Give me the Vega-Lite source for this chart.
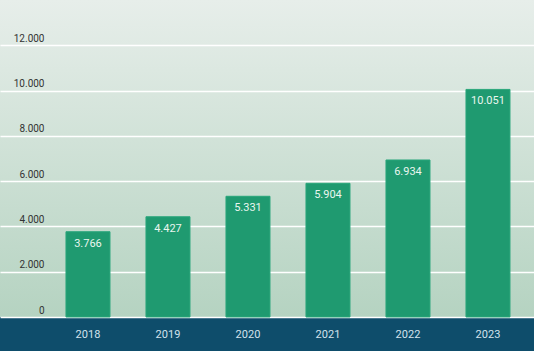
{
  "$schema": "https://vega.github.io/schema/vega-lite/v6.json",
  "width": 534,
  "height": 317,
  "padding": {"top": 0, "left": 0, "right": 0, "bottom": 34},
  "autosize": {"type": "none"},
  "background": "#0e4d6b",
  "config": {
    "view": {
      "stroke": null,
      "fill": {
        "gradient": "linear",
        "x1": 0, "y1": 0, "x2": 0, "y2": 1,
        "stops": [
          {"offset": 0, "color": "#e7eeea"},
          {"offset": 1, "color": "#b5d3c1"}
        ]
      }
    },
    "font": "Roboto",
    "locale": {"number": {"decimal": ",", "thousands": ".", "grouping": [3], "currency": ["", " €"]}}
  },
  "data": {
    "values": [
      {"year": "2018", "value": 3766},
      {"year": "2019", "value": 4427},
      {"year": "2020", "value": 5331},
      {"year": "2021", "value": 5904},
      {"year": "2022", "value": 6934},
      {"year": "2023", "value": 10051}
    ]
  },
  "layer": [
    {
      "mark": {"type": "bar", "color": "#1f9a70", "stroke": "#2aa67b", "strokeWidth": 1},
      "encoding": {
        "x": {
          "field": "year", "type": "ordinal",
          "scale": {"paddingInner": 0.45, "paddingOuter": 0.5625, "align": 0.733},
          "axis": {
            "title": null, "domain": false, "ticks": false, "labelAngle": 0,
            "labelColor": "#d3e3ec", "labelFontSize": 11, "labelPadding": 11
          }
        },
        "y": {
          "field": "value", "type": "quantitative",
          "scale": {"domain": [0, 14000], "nice": false},
          "axis": {
            "title": null, "domain": false, "ticks": false,
            "values": [0, 2000, 4000, 6000, 8000, 10000, 12000],
            "format": ",d",
            "grid": true, "gridColor": "#ffffff", "gridWidth": 1.5, "gridOpacity": 1,
            "labelAlign": "right", "labelPadding": -44, "labelBaseline": "alphabetic",
            "labelOffset": -4, "labelColor": "#333333", "labelFontSize": 10
          }
        }
      }
    },
    {
      "mark": {"type": "text", "baseline": "top", "dy": 6, "color": "#eaf6ef", "fontSize": 11},
      "encoding": {
        "x": {"field": "year", "type": "ordinal"},
        "y": {"field": "value", "type": "quantitative"},
        "text": {"field": "value", "type": "quantitative", "format": ",d"}
      }
    }
  ]
}
